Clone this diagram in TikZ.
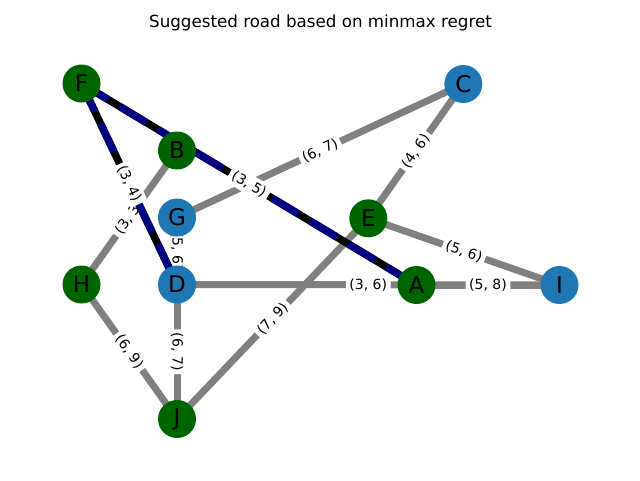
\documentclass[tikz,border=0pt]{standalone}
\usepackage{fontspec}
\setmainfont{DejaVu Sans}
\pgfdeclarelayer{bg}
\pgfsetlayers{bg,main}
\definecolor{nodegreen}{HTML}{006400}
\definecolor{nodeblue}{HTML}{1F77B4}
\definecolor{edgegrey}{HTML}{808080}
\definecolor{pathnavy}{HTML}{000080}
\tikzset{
  vtx/.style={circle, minimum size=38pt, inner sep=0pt, text=black, font=\fontsize{23}{23}\selectfont},
  gnode/.style={vtx, fill=nodegreen},
  bnode/.style={vtx, fill=nodeblue},
  plainedge/.style={draw=edgegrey, line width=7pt},
  routeunder/.style={draw=black, line width=7.5pt},
  routeover/.style={draw=pathnavy, line width=7.5pt, dash pattern=on 31pt off 13.5pt},
  elabel/.style={fill=white, rounded corners=3pt, inner sep=3.5pt, text=black, font=\fontsize{14}{14}\selectfont},
}
\begin{document}
\begin{tikzpicture}[x=1pt, y=-1pt]
\useasboundingbox (0,0) rectangle (640,480);
\node[font=\fontsize{16.7}{16.7}\selectfont] (title) at (320.5,23) {Suggested road based on minmax regret};
% nodes
\node[gnode] (F) at (81.5,83.5) {F};
\node[bnode] (C) at (463.3,84) {C};
\node[gnode] (B) at (177,150.5) {B};
\node[bnode] (G) at (177,217.5) {G};
\node[gnode] (E) at (368.3,218.3) {E};
\node[gnode] (H) at (81.5,284.5) {H};
\node[bnode] (D) at (177,284.5) {D};
\node[gnode] (A) at (416.5,285) {A};
\node[bnode] (I) at (559.5,285) {I};
\node[gnode] (J) at (177,419) {J};
\begin{pgfonlayer}{bg}
  % grey edges
  \draw[plainedge] (H.center) -- (B.center);
  \draw[plainedge] (G.center) -- (C.center);
  \draw[plainedge] (E.center) -- (C.center);
  \draw[plainedge] (E.center) -- (I.center);
  \draw[plainedge] (D.center) -- (I.center);
  \draw[plainedge] (A.center) -- (I.center);
  \draw[plainedge] (J.center) -- (E.center);
  \draw[plainedge] (H.center) -- (J.center);
  \draw[plainedge] (D.center) -- (J.center);
  \draw[plainedge] (G.center) -- (D.center);
  % grey edge labels
  \path (H.center) -- node[elabel, sloped] {(3, 3)} (B.center);
  \path (G.center) -- node[elabel, sloped] {(6, 7)} (C.center);
  \path (E.center) -- node[elabel, sloped] {(4, 6)} (C.center);
  \path (E.center) -- node[elabel, sloped] {(5, 6)} (I.center);
  \path (D.center) -- node[elabel] {(3, 6)} (I.center);
  \path (A.center) -- node[elabel] {(5, 8)} (I.center);
  \path (J.center) -- node[elabel, sloped] {(7, 9)} (E.center);
  \path (H.center) -- node[elabel, sloped] {(6, 9)} (J.center);
  \path (D.center) -- node[elabel, rotate=-90] {(6, 7)} (J.center);
  \path (G.center) -- node[elabel, rotate=-90] {(5, 6)} (D.center);
  % suggested road
  \draw[routeunder] (F.center) -- (A.center);
  \draw[routeunder] (F.center) -- (D.center);
  \draw[routeover] (F.center) -- (A.center);
  \draw[routeover] (F.center) -- (D.center);
  \path (F.center) -- node[elabel, sloped] {(3, 5)} (A.center);
  \path (F.center) -- node[elabel, sloped] {(3, 4)} (D.center);
\end{pgfonlayer}
\end{tikzpicture}
\end{document}
